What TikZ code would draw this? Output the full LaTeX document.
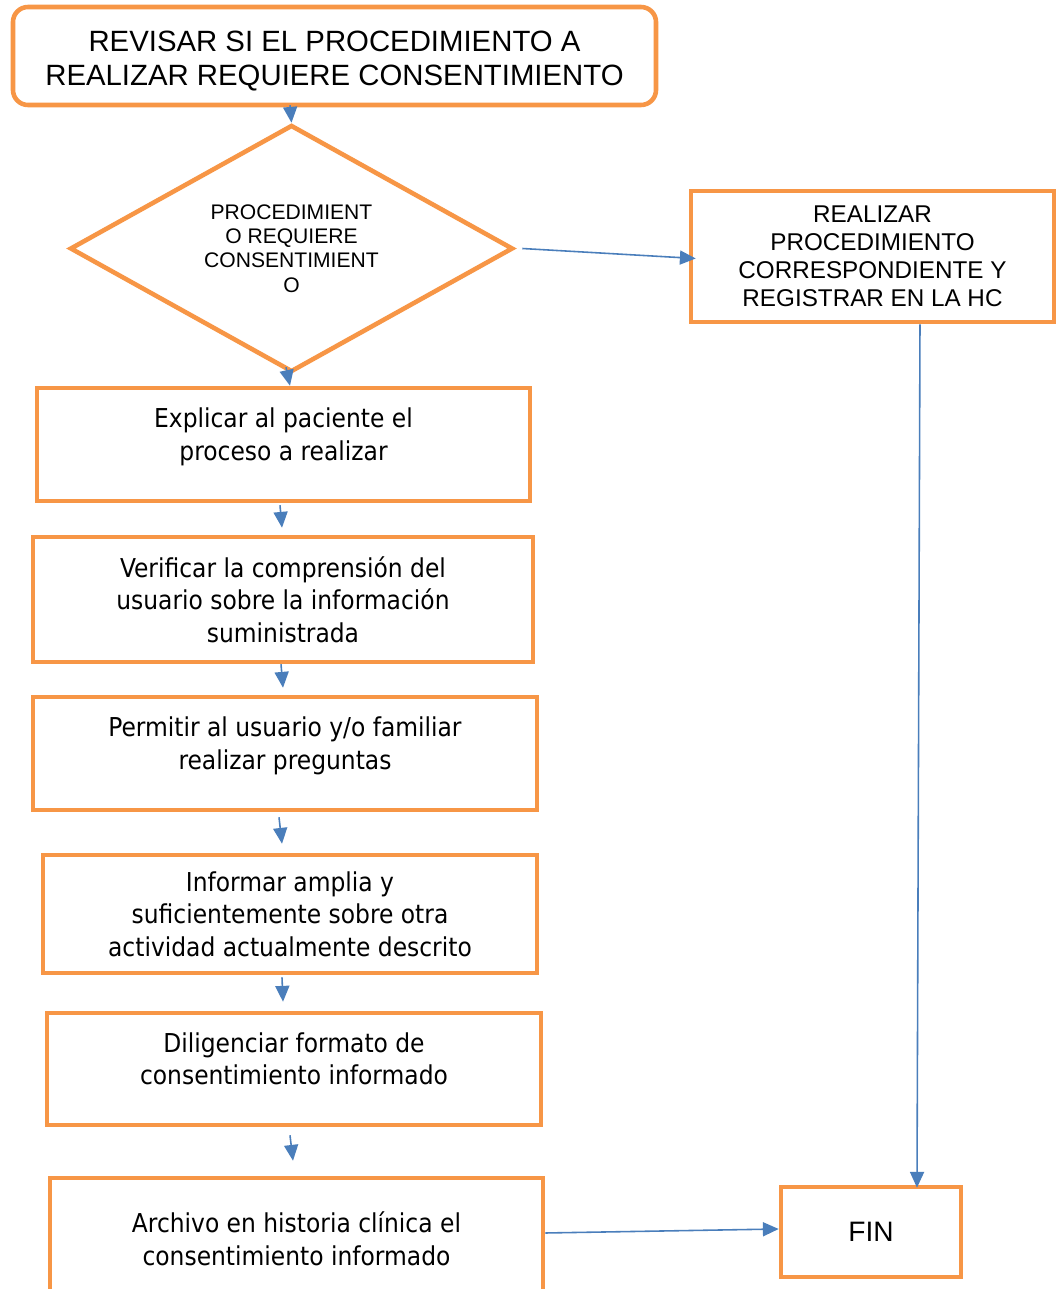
\documentclass[tikz,border=0pt]{standalone}
\usepackage{fontspec}
\setmainfont{Liberation Sans}
\newfontfamily\boxfont{DejaVu Sans Condensed}
\usetikzlibrary{shapes.geometric,arrows.meta}
\definecolor{naranja}{HTML}{F79646}
\definecolor{azul}{HTML}{4A7EBB}

\begin{document}
\begin{tikzpicture}[scale=0.2]
    \tikzstyle{every node}+=[inner sep=0pt]
    \tikzstyle{caja}=[draw=naranja, line width=2.6pt, fill=white, rectangle, align=center, font=\boxfont\fontsize{14.8}{18.5}\selectfont]
    \tikzstyle{flecha}=[azul, line width=0.9pt, -{Triangle[length=9pt,width=8pt]}]
    \useasboundingbox (0,0) rectangle (106.4,-128.9);
    \node [caja, rounded corners=0.3cm, minimum width=12.86cm, minimum height=1.96cm, text height=37pt, font=\fontsize{16.7}{19.3}\selectfont] (revisar) at (33.45,-5.6) {REVISAR SI EL PROCEDIMIENTO A\\REALIZAR REQUIERE CONSENTIMIENTO};
    \node [draw=naranja, line width=2.6pt, diamond, aspect=1.8, minimum width=8.86cm, minimum height=4.94cm, align=center, font=\fontsize{12}{13.9}\selectfont] (requiere) at (29.15,-24.85) {PROCEDIMIENT\\O REQUIERE\\CONSENTIMIENT\\O};
    \node [caja, minimum width=7.26cm, minimum height=2.62cm, font=\fontsize{13.8}{15.9}\selectfont] (realizar) at (87.25,-25.65) {REALIZAR\\PROCEDIMIENTO\\CORRESPONDIENTE Y\\REGISTRAR EN LA HC};
    \node [caja, minimum width=9.86cm, minimum height=2.26cm, text depth=12pt] (explicar) at (28.35,-44.45) {Explicar al paciente el\\proceso a realizar};
    \node [caja, minimum width=10cm, minimum height=2.5cm] (verificar) at (28.3,-59.95) {Verificar la comprensión del\\usuario sobre la información\\suministrada};
    \node [caja, minimum width=10.08cm, minimum height=2.26cm, text depth=12pt] (permitir) at (28.5,-75.35) {Permitir al usuario y/o familiar\\realizar preguntas};
    \node [caja, minimum width=9.88cm, minimum height=2.36cm] (informar) at (29,-91.4) {Informar amplia y\\suficientemente sobre otra\\actividad actualmente descrito};
    \node [caja, minimum width=9.88cm, minimum height=2.24cm, text depth=12pt] (diligenciar) at (29.4,-106.9) {Diligenciar formato de\\consentimiento informado};
    \node [caja, minimum width=9.86cm, minimum height=2.44cm] (archivo) at (29.65,-123.9) {Archivo en historia clínica el\\consentimiento informado};
    \node [caja, minimum width=3.6cm, minimum height=1.8cm, font=\fontsize{16}{19}\selectfont] (fin) at (87.1,-123.2) {FIN};
    \draw [flecha] ([xshift=-4.45cm,yshift=0.2cm]revisar.south) -- (requiere.north);
    \draw [flecha] ([xshift=-0.55cm,yshift=0.7cm]requiere.south) -- ([xshift=0.65cm]explicar.north);
    \draw [flecha] ([xshift=0.7cm]requiere.east) -- ([xshift=0.7cm,yshift=-0.2cm]realizar.west);
    \draw [flecha] ([xshift=-0.35cm,yshift=-0.2cm]explicar.south) -- ([xshift=-0.1cm,yshift=0.7cm]verificar.north);
    \draw [flecha] ([xshift=-0.2cm]verificar.south) -- ([xshift=-0.2cm,yshift=0.7cm]permitir.north);
    \draw [flecha] ([xshift=-0.6cm,yshift=-0.5cm]permitir.south) -- ([xshift=-0.8cm,yshift=0.9cm]informar.north);
    \draw [flecha] ([xshift=-0.8cm,yshift=-0.2cm]informar.south) -- ([xshift=-1.1cm,yshift=0.9cm]diligenciar.north);
    \draw [flecha] ([xshift=-0.4cm,yshift=-0.8cm]diligenciar.south) -- ([xshift=-0.35cm,yshift=1.5cm]archivo.north);
    \draw [flecha] ([yshift=0.6cm]archivo.east) -- ([yshift=0.3cm]fin.west);
    \draw [flecha] ([xshift=4.75cm]realizar.south) -- ([xshift=4.6cm,yshift=-0.3cm]fin.north);
\end{tikzpicture}
\end{document}
